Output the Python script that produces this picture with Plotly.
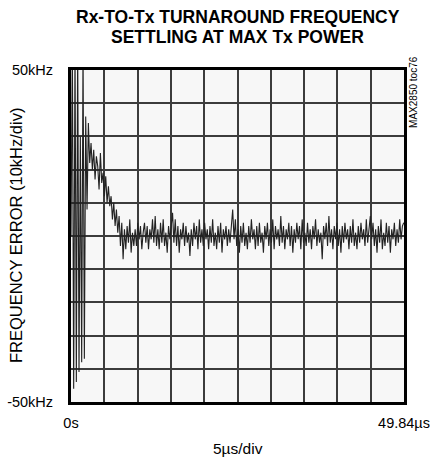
import plotly.graph_objects as go

# ---- data ----
SAMPLE_STEP_US = 0.2
freq_error_khz = [
    0, 58, -46, 58, -44, 58, -41, 30, -38, 58,
    -37, 36, 8, 34, 22, 28, 20, 26, 17, 24,
    21, 14, 25, 16, 19, 12, 18, 10, 15, 9,
    12, 5, 10, 3, 8, 1, 6, -3, 4, -7,
    2, -4, 3, -2, 5, -5, 1, -3, 2, -3,
    4, -1, 3, -4, 1, 4, -2, 3, -4, 2,
    -1, 5, -2, 6, -3, 2, -4, 4, -2, 5,
    -3, 1, -5, 3, -1, 4, 7, -2, 5, -3,
    3, -5, 2, -1, 4, -3, 3, -2, 1, -6,
    2, -3, 4, -1, 3, -4, 5, -2, 2, -3,
    4, -1, 2, -4, 3, -2, 5, -3, 1, -4,
    3, -2, 4, -5, 2, -1, 3, -3, 2, -2,
    4, 8, -1, 5, -3, 2, -5, 3, -2, 4,
    -3, 1, -4, 3, -2, 5, -1, 2, -4, 3,
    -3, 4, -2, 1, -5, 3, -1, 4, -3, 2,
    -2, 5, -4, 3, -1, 2, -3, 6, -2, 3,
    -4, 2, -1, 4, -3, 3, -5, 2, -2, 4,
    -1, 3, -4, 5, -2, 1, -3, 4, -2, 2,
    -4, 3, -1, 5, -3, 2, -2, 1, -7, 3,
    -1, 4, -3, 6, -2, 2, -4, 3, -1, 4,
    -3, 2, -5, 3, -2, 4, -1, 2, -4, 3,
    -2, 5, -3, 1, -4, 3, -2, 4, -1, 2,
    -3, 5, -2, 3, 6, -1, 4, -3, 2, -5,
    3, -2, 5, -4, 1, -3, 4, -2, 3, -5,
    2, -1, 4, -3, 2, -2, 5, -1, 3, 4,
]
time_us = [i * SAMPLE_STEP_US for i in range(len(freq_error_khz))]

X_END_US = 49.84
X_DIVS = 10
x_tick_vals = [X_END_US * i / X_DIVS for i in range(X_DIVS + 1)]
x_tick_text = ["0s"] + [""] * (X_DIVS - 1) + ["49.84µs"]

y_tick_vals = [-50, -40, -30, -20, -10, 0, 10, 20, 30, 40, 50]
y_tick_text = ["-50kHz"] + [""] * 9 + ["50kHz"]

title_lines = ["Rx-TO-Tx TURNAROUND FREQUENCY", "SETTLING AT MAX Tx POWER"]
y_title = "FREQUENCY ERROR (10kHz/div)"
x_title = "5µs/div"
side_tag = "MAX2850 toc76"

FONT = "Liberation Sans, Arial, sans-serif"

fig = go.Figure()
fig.add_trace(go.Scatter(
    x=time_us, y=freq_error_khz, mode="lines",
    line=dict(color="#222222", width=1.1),
    hoverinfo="skip", showlegend=False,
))

grid_col = "#3c3c3c"
fig.update_xaxes(
    range=[0, X_END_US], tickmode="array", tickvals=x_tick_vals, ticktext=x_tick_text,
    showgrid=True, gridcolor=grid_col, gridwidth=1.5, zeroline=False,
    showline=True, mirror=True, linecolor="black", linewidth=3,
    ticks="", ticklabelstandoff=6, automargin=False,
    tickfont=dict(family=FONT, size=14.5, color="black"),
)
fig.update_yaxes(
    range=[-50, 50], tickmode="array", tickvals=y_tick_vals, ticktext=y_tick_text,
    showgrid=True, gridcolor=grid_col, gridwidth=1.5, zeroline=False,
    showline=True, mirror=True, linecolor="black", linewidth=3,
    ticks="", ticklabelstandoff=12, automargin=False,
    tickfont=dict(family=FONT, size=14.5, color="black"),
)

annos = [
    dict(text="<b>%s</b>" % title_lines[0], x=0.5, y=1.1596, font=dict(size=17.5)),
    dict(text="<b>%s</b>" % title_lines[1], x=0.5, y=1.0994, font=dict(size=17.5)),
    dict(text=y_title, x=-0.165, y=0.5, textangle=-90, font=dict(size=16.5)),
    dict(text=x_title, x=0.5, y=-0.1386, font=dict(size=15.5)),
    dict(text=side_tag, x=1.030, y=0.934, textangle=-90, font=dict(size=10)),
]
for a in annos:
    a.update(xref="paper", yref="paper", showarrow=False,
             xanchor="center", yanchor="middle")
    a["font"].update(family=FONT, color="black")
fig.update_layout(
    width=430, height=464,
    margin=dict(l=71, r=26, t=70, b=62),
    paper_bgcolor="white", plot_bgcolor="#f7f7f7",
    annotations=annos,
)
fig.write_html("out.html", config={"displayModeBar": False},
               post_script="document.body.style.margin='0';")
